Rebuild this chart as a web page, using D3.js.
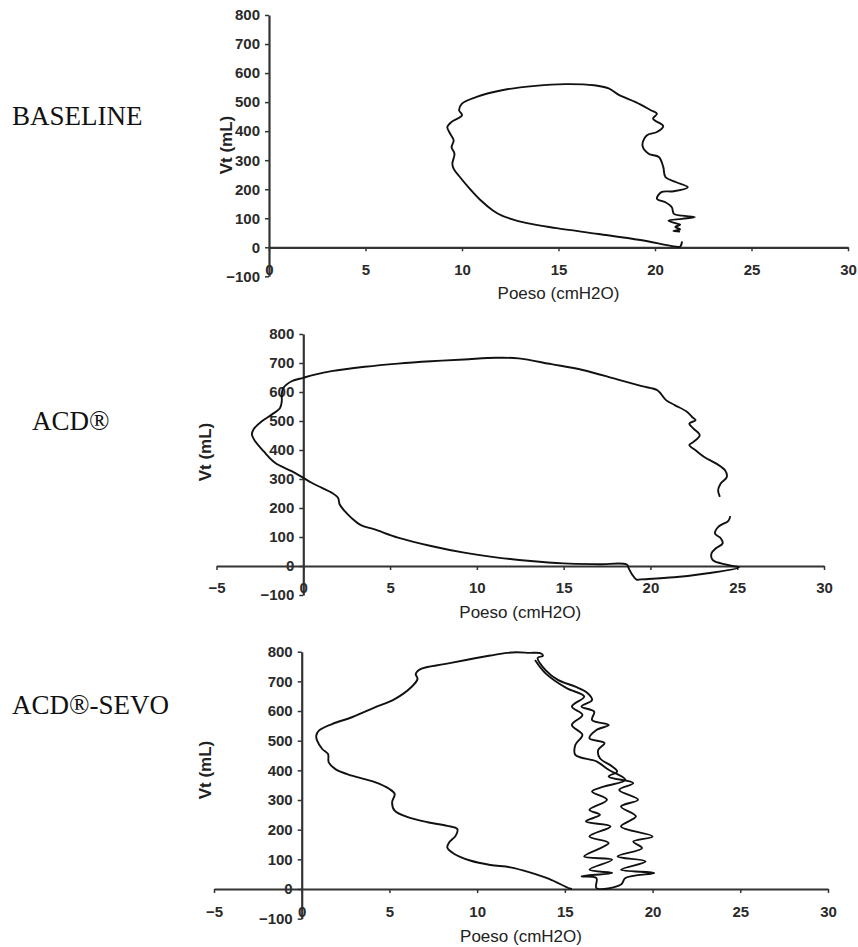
<!DOCTYPE html>
<html>
<head>
<meta charset="utf-8">
<script src="https://cdn.jsdelivr.net/npm/d3@7"></script>
<style>
  html, body { margin: 0; padding: 0; background: #fff; }
  svg { display: block; }
</style>
</head>
<body>
<svg id="chart" width="858" height="947"></svg>
<script>
// ---------------- DATA ----------------
const panelLabels = ["BASELINE", "ACD\u00AE", "ACD\u00AE-SEVO"];
const xTitle = "Poeso (cmH2O)";
const yTitle = "Vt (mL)";
const yTickValues = [-100, 0, 100, 200, 300, 400, 500, 600, 700, 800];
const xTickValuesBaseline = [0, 5, 10, 15, 20, 25, 30];
const xTickValuesACD = [-5, 0, 5, 10, 15, 20, 25, 30];

// BASELINE loop (Poeso cmH2O, Vt mL)
const baselinePoeso = [21.4, 21.3, 21.0, 19.24, 17.07, 14.9, 13.37, 12.07, 11.6, 10.98, 10.33, 9.89, 9.57, 9.5, 9.61, 9.46, 9.57, 9.39, 9.24, 9.46, 10.0, 9.85, 10.0, 10.76, 12.07, 13.8, 15.33, 16.85, 17.6, 18.15, 19.0, 19.78, 20.1, 19.9, 20.43, 20.1, 19.57, 19.35, 19.67, 20.2, 20.43, 20.54, 21.1, 21.7, 20.96, 20.33, 20.1, 20.54, 20.87, 20.98, 21.4, 22.07, 21.4, 20.7, 21.0, 21.3, 21.05, 21.3, 20.95, 21.3];
const baselineVt    = [20, 2, 3, 25, 46, 66, 83, 109, 127, 161, 207, 242, 270, 288, 322, 345, 368, 391, 414, 432, 455, 472, 495, 518, 541, 556, 562, 558, 547, 524, 500, 472, 460, 443, 417, 397, 385, 351, 322, 311, 276, 242, 224, 207, 193, 190, 167, 155, 138, 115, 109, 104, 98, 92, 84, 78, 70, 62, 56, 54];

// ACD loop
const acdPoeso = [24.6, 24.49, 23.91, 23.72, 24.06, 24.16, 23.77, 23.52, 23.58, 24.06, 24.73, 25.1, 23.3, 21.37, 19.45, 19.2, 18.95, 18.75, 18.64, 17.0, 15.0, 13.1, 11.2, 9.27, 7.36, 5.45, 4.11, 3.35, 2.77, 2.39, 2.1, 2.0, 1.63, 1.05, 0.48, 0.0, -0.67, -1.63, -2.29, -2.77, -2.96, -2.87, -2.39, -1.82, -1.34, -1.24, -1.24, -1.15, -0.67, 0.0, 0.67, 1.63, 3.54, 5.45, 7.36, 9.27, 11.1, 12.4, 14.3, 16.1, 18.0, 19.5, 20.4, 20.9, 21.4, 22.1, 22.4, 22.6, 22.24, 22.48, 22.84, 22.48, 22.24, 22.6, 23.1, 23.8, 24.3, 24.4, 24.04, 23.9, 24.0];
const acdVt    = [172, 156, 135, 112, 95, 78, 61, 44, 21, 9, 0, -5, -25, -39, -46, -47, -30, -8, 5, 6, 9, 17, 29, 46, 69, 98, 126, 140, 166, 189, 212, 235, 253, 270, 287, 304, 327, 356, 396, 430, 453, 471, 499, 522, 545, 568, 591, 614, 637, 649, 660, 672, 687, 698, 706, 712, 718, 716, 696, 676, 645, 620, 606, 572, 555, 532, 514, 503, 491, 474, 451, 428, 417, 399, 376, 353, 330, 307, 284, 261, 238];

// ACD-SEVO loop
const sevoPoeso = [15.4, 15.26, 14.1, 13.0, 11.9, 10.75, 9.6, 8.7, 8.3, 8.4, 8.78, 8.87, 8.3, 7.18, 6.05, 5.3, 5.15, 5.3, 5.0, 4.17, 2.86, 1.92, 1.54, 1.5, 1.17, 0.88, 0.83, 0.98, 1.73, 2.86, 4.17, 5.3, 6.24, 6.6, 6.5, 6.8, 8.12, 9.44, 10.75, 11.7, 12.25, 13.0, 13.6, 13.75, 13.45, 13.9, 14.6, 15.6, 16.3, 16.55, 15.95, 16.67, 16.55, 17.5, 16.8, 16.4, 17.26, 16.9, 17.0, 17.7, 17.98, 17.5, 18.9, 18.1, 19.17, 18.2, 19.05, 18.2, 20.0, 18.9, 19.4, 18.0, 19.6, 18.2, 20.1, 18.45, 18.2, 16.8, 16.8, 15.95, 17.7, 16.4, 17.7, 16.1, 17.5, 16.4, 17.6, 16.2, 17.0, 16.4, 17.4, 16.55, 17.26, 18.45, 17.5, 16.8, 15.6, 15.6, 16.0, 15.4, 16.0, 15.4, 16.1, 15.1, 13.9, 13.3];
const sevoVt    = [0, 2, 34, 56, 73, 81, 96, 118, 140, 157, 180, 202, 213, 225, 242, 264, 292, 320, 337, 360, 382, 404, 427, 455, 472, 500, 517, 534, 556, 579, 612, 640, 680, 708, 725, 742, 758, 773, 787, 796, 798, 796, 795, 786, 779, 738, 705, 682, 660, 637, 615, 598, 570, 553, 536, 508, 492, 469, 441, 413, 396, 379, 357, 334, 301, 278, 245, 211, 177, 160, 138, 110, 93, 65, 54, 37, 15, 3, 37, 43, 54, 65, 99, 110, 155, 177, 211, 228, 250, 267, 301, 329, 346, 368, 402, 430, 452, 486, 520, 553, 587, 615, 649, 677, 727, 772];

// ---------------- LAYOUT ----------------
const panels = [
  { label: panelLabels[0], labelX: 12, labelY: 125, poeso: baselinePoeso, vt: baselineVt,
    xDomain: [0, 30], xRange: [269, 848], yZero: 247.3, y800: 15, xTicks: xTickValuesBaseline,
    yTitleX: 226, yTitleY: 145 },
  { label: panelLabels[1], labelX: 32, labelY: 430, poeso: acdPoeso, vt: acdVt,
    xDomain: [-5, 30], xRange: [216.5, 824], yZero: 566, y800: 334, xTicks: xTickValuesACD,
    yTitleX: 205, yTitleY: 452 },
  { label: panelLabels[2], labelX: 12, labelY: 714, poeso: sevoPoeso, vt: sevoVt,
    xDomain: [-5, 30], xRange: [214, 828], yZero: 889, y800: 651.7, xTicks: xTickValuesACD,
    yTitleX: 205, yTitleY: 770 }
];

const svg = d3.select("#chart");
const tickFont = "'Liberation Sans', Arial, sans-serif";

panels.forEach(p => {
  const x = d3.scaleLinear().domain(p.xDomain).range(p.xRange);
  const y = d3.scaleLinear().domain([0, 800]).range([p.yZero, p.y800]);
  const g = svg.append("g");

  // Panel label (serif)
  svg.append("text")
    .attr("x", p.labelX).attr("y", p.labelY)
    .attr("font-family", "'Liberation Serif', 'Times New Roman', serif")
    .attr("font-size", 27)
    .attr("fill", "#111")
    .text(p.label);

  // Y axis at x = 0
  const yAxis = d3.axisLeft(y.copy().domain([-100, 800]).range([y(-100), y(800)]))
    .tickValues(yTickValues).tickSize(4).tickSizeOuter(0).tickPadding(5);
  const gy = g.append("g").attr("transform", `translate(${x(0)},0)`).call(yAxis);

  // X axis at y = 0
  const xAxis = d3.axisBottom(x).tickValues(p.xTicks).tickSize(4).tickSizeOuter(0)
    .tickFormat(d3.format("d"));
  const gx = g.append("g").attr("transform", `translate(0,${y(0)})`).call(xAxis);
  // x tick labels sit at the bottom (low position)
  const labelCenter = y(-100) - 7 - y(0);
  gx.selectAll(".tick text").attr("y", labelCenter).attr("dy", "0.36em");

  [gx, gy].forEach(a => {
    a.select(".domain").attr("stroke", "#333").attr("stroke-width", 2.2);
    a.selectAll(".tick line").attr("stroke", "#333").attr("stroke-width", 1.5);
    a.selectAll(".tick text")
      .attr("font-family", tickFont).attr("font-size", 15).attr("font-weight", "bold")
      .attr("fill", "#2a2a2a");
  });

  // Axis titles
  g.append("text")
    .attr("x", (p.xRange[0] + p.xRange[1]) / 2)
    .attr("y", y(-100) + 17)
    .attr("dy", "0.36em")
    .attr("text-anchor", "middle")
    .attr("font-family", tickFont).attr("font-size", 17)
    .attr("fill", "#222")
    .text(xTitle);
  g.append("text")
    .attr("transform", `translate(${p.yTitleX},${p.yTitleY}) rotate(-90)`)
    .attr("dy", "0.36em")
    .attr("text-anchor", "middle")
    .attr("font-family", tickFont).attr("font-size", 17).attr("font-weight", "bold")
    .attr("fill", "#222")
    .text(yTitle);

  // Loop
  const pts = p.poeso.map((v, i) => [v, p.vt[i]]);
  const line = d3.line()
    .x(d => x(d[0])).y(d => y(d[1]))
    .curve(d3.curveCatmullRom.alpha(0.5));
  g.append("path")
    .datum(pts)
    .attr("d", line)
    .attr("fill", "none")
    .attr("stroke", "#111")
    .attr("stroke-width", 1.9)
    .attr("stroke-linejoin", "round");
});
</script>
</body>
</html>
